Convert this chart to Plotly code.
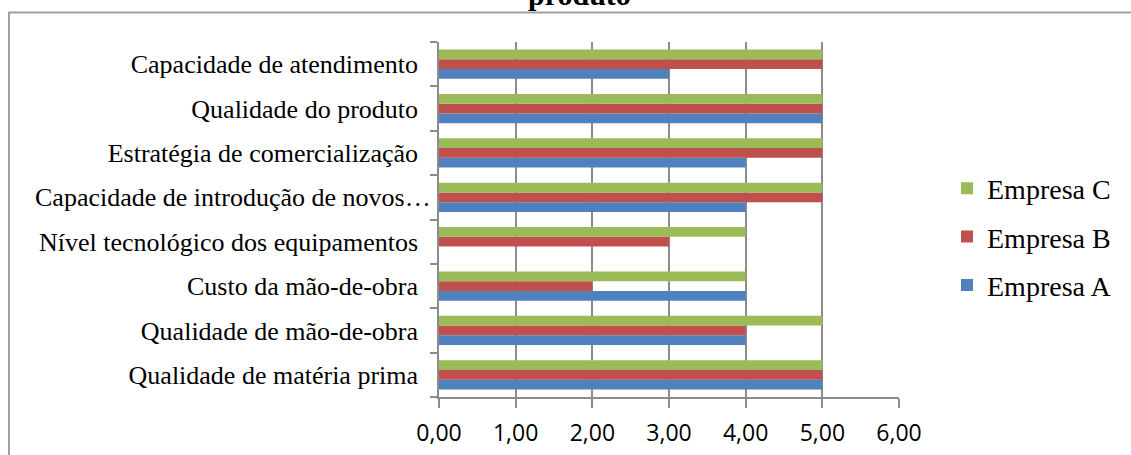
import plotly.graph_objects as go

# Categories listed from bottom to top of the chart
categories = [
    "Qualidade de matéria prima",
    "Qualidade de mão-de-obra",
    "Custo da mão-de-obra",
    "Nível tecnológico dos equipamentos",
    "Capacidade de introdução de novos…",
    "Estratégia de comercialização",
    "Qualidade do produto",
    "Capacidade de atendimento",
]
empresa_a = [5, 4, 4, 0, 4, 4, 5, 3]
empresa_b = [5, 4, 2, 3, 5, 5, 5, 5]
empresa_c = [5, 5, 4, 4, 5, 5, 5, 5]
x_ticks = [0, 1, 2, 3, 4, 5, 6]
title_text = "produto"

W, H = 1131, 455
L, R, T, B = 439, 899, 42, 397  # plot area in pixels


def px_x(p):
    return (p - L) / (R - L)


def px_y(p):
    return (B - p) / (B - T)


serif = "Liberation Serif, Times New Roman, serif"
grey = "#8c8c8c"

fig = go.Figure()
series = [
    ("Empresa A", empresa_a, "#4F81BD", 3),
    ("Empresa B", empresa_b, "#C0504D", 2),
    ("Empresa C", empresa_c, "#9BBB59", 1),
]
for name, vals, color, rank in series:
    fig.add_trace(go.Bar(
        x=vals, y=categories, orientation="h", name=name,
        marker=dict(color=color, line=dict(width=0)),
        legendgroup=name, legendrank=rank,
    ))

# the truncated label sits closer to the axis than the others
long_label = categories[4]
ticktext = [c if c != long_label else "" for c in categories]

fig.update_layout(
    width=W, height=H,
    margin=dict(l=L, r=W - R, t=T, b=H - B, autoexpand=False),
    paper_bgcolor="white", plot_bgcolor="white",
    barmode="group", bargap=0.34, bargroupgap=0,
    separators=",.",
    showlegend=True,
    legend=dict(
        x=px_x(947), y=px_y(237), xanchor="left", yanchor="middle",
        font=dict(family=serif, size=28, color="black"),
        tracegroupgap=9, bgcolor="rgba(0,0,0,0)",
    ),
    xaxis=dict(
        range=[0, 6], tickvals=x_ticks, tickformat=".2f",
        showgrid=True, gridcolor=grey, gridwidth=1.5,
        showline=True, linecolor=grey, linewidth=1.5,
        ticks="outside", ticklen=9, tickcolor=grey, tickwidth=1.5,
        ticklabelstandoff=6, automargin=False,
        tickfont=dict(family="Open Sans, sans-serif", size=23, color="black"),
        zeroline=False, fixedrange=True,
    ),
    yaxis=dict(
        type="category", categoryorder="array", categoryarray=categories,
        tickvals=categories, ticktext=ticktext,
        tickson="boundaries", ticks="outside", ticklen=7,
        tickcolor=grey, tickwidth=1.5,
        showline=True, linecolor=grey, linewidth=1.5,
        showgrid=False, ticklabelstandoff=14, automargin=False,
        tickfont=dict(family=serif, size=26, color="black"),
        fixedrange=True,
    ),
    shapes=[
        dict(type="rect", xref="paper", yref="paper",
             x0=px_x(9), x1=px_x(W + 20), y0=px_y(H + 20), y1=px_y(12.5),
             line=dict(color="#a0a0a0", width=2), fillcolor="rgba(0,0,0,0)",
             layer="below"),
    ],
    annotations=[
        dict(text=title_text, xref="paper", yref="paper",
             x=px_x(579), y=px_y(-5), xanchor="center", yanchor="middle",
             showarrow=False,
             font=dict(family=serif, size=30, color="black", weight="bold")),
        dict(text=long_label, xref="paper", yref="y",
             x=px_x(433), y=long_label, xanchor="right", yanchor="middle",
             showarrow=False,
             font=dict(family=serif, size=26, color="black")),
    ],
)

fig.write_html("out.html")
